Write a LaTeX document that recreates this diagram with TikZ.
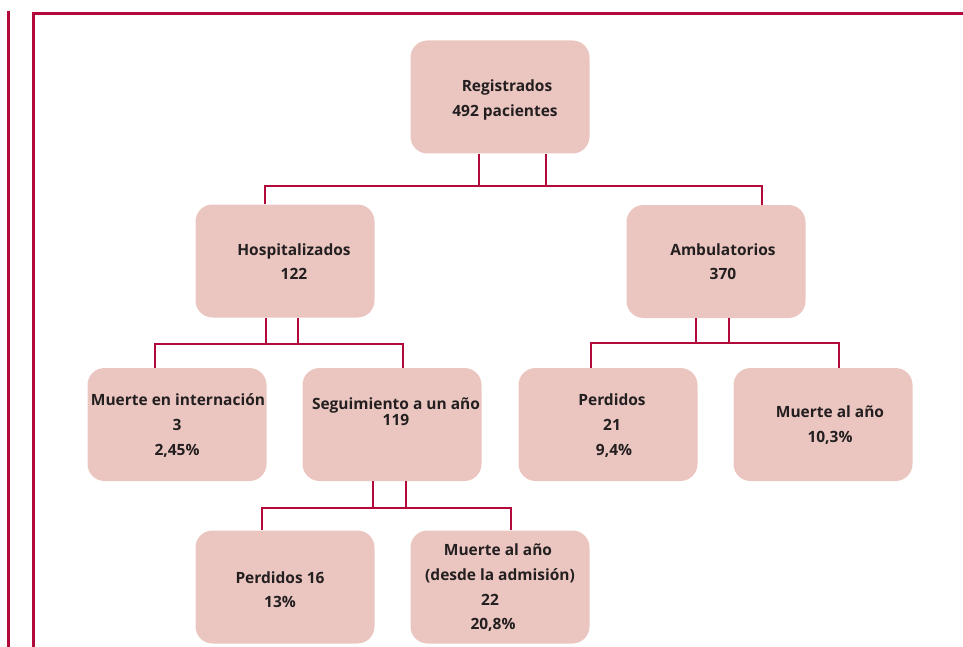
\documentclass[tikz,border=0pt]{standalone}
\usepackage{fontspec}
\setmainfont{Open Sans}
\definecolor{lineC}{RGB}{178,8,58}
\definecolor{boxC}{RGB}{235,198,192}
\definecolor{txtC}{RGB}{35,31,32}
\begin{document}
\begin{tikzpicture}[x=1pt,y=-1pt,
  box/.style={draw=none,fill=boxC,rounded corners=17pt,minimum width=179pt,minimum height=113pt,inner sep=0pt},
  txt/.style={anchor=base,inner sep=0pt,text=txtC,font=\fontsize{15.5}{25}\selectfont\bfseries},
  conn/.style={draw=lineC,line width=2.6pt},
  frame/.style={draw=lineC,line width=2.8pt}]
\useasboundingbox (0,0) rectangle (963,647);
% frame
\coordinate (fA) at (8.3,11);
\coordinate (fB) at (8.3,647);
\coordinate (fC) at (33.5,647);
\coordinate (fD) at (33.5,13.5);
\coordinate (fE) at (963,13.5);
\draw[frame,line width=2.4pt] (fA) -- (fB);
\draw[frame,line cap=rect] (fC) -- (fD) -- (fE);
% boxes
\node[box] (reg)  at (500,97) {};
\node[box] (hosp) at (285,261) {};
\node[box] (amb)  at (716,261.5) {};
\node[box] (mei)  at (177,424.5) {};
\node[box] (seg)  at (392,424.5) {};
\node[box] (p21)  at (608,424.5) {};
\node[box] (mal)  at (823,424.5) {};
\node[box] (p16)  at (285,587) {};
\node[box] (mda)  at (500,587) {};
% texts
\node[txt] (t1a) at (507,92) {Registrados};
\node[txt] (t1b) at (505,117) {492 pacientes};
\node[txt] (t2a) at (294,255) {Hospitalizados};
\node[txt] (t2b) at (294,279) {122};
\node[txt] (t3a) at (723,255) {Ambulatorios};
\node[txt] (t3b) at (723,279) {370};
\node[txt] (t4a) at (178,405) {Muerte en internación};
\node[txt] (t4b) at (177,430) {3};
\node[txt] (t4c) at (177,455) {2,45\%};
\node[txt] (t5a) at (396,409) {Seguimiento a un año};
\node[txt] (t5b) at (396,425) {119};
\node[txt] (t6a) at (612,405) {Perdidos};
\node[txt] (t6b) at (612,430) {21};
\node[txt] (t6c) at (614,455) {9,4\%};
\node[txt] (t7a) at (830,417) {Muerte al año};
\node[txt] (t7b) at (830,442) {10,3\%};
\node[txt] (t8a) at (280,583) {Perdidos 16};
\node[txt] (t8b) at (280,607) {13\%};
\node[txt] (t9a) at (498,555) {Muerte al año};
\node[txt] (t9b) at (500,580) {(desde la admisión)};
\node[txt] (t9c) at (490,605) {22};
\node[txt] (t9d) at (493,629) {20,8\%};
% connectors level 1
\coordinate (bus1) at (500,186);
\draw[conn] ([xshift=-21pt]reg.south) -- ([xshift=-21pt]reg.south |- bus1);
\draw[conn] ([xshift=46pt]reg.south) -- ([xshift=46pt]reg.south |- bus1);
\draw[conn] ([xshift=-20pt]hosp.north) |- (bus1) -| ([xshift=46pt]amb.north);
% level 2 hosp
\coordinate (bus2) at (285,344);
\draw[conn] ([xshift=-19pt]hosp.south) -- ([xshift=-19pt]hosp.south |- bus2);
\draw[conn] ([xshift=13pt]hosp.south) -- ([xshift=13pt]hosp.south |- bus2);
\draw[conn] ([xshift=-22pt]mei.north) |- (bus2) -| ([xshift=11pt]seg.north);
% level 2 amb
\coordinate (bus3) at (716,343);
\draw[conn] ([xshift=-20pt]amb.south) -- ([xshift=-20pt]amb.south |- bus3);
\draw[conn] ([xshift=13pt]amb.south) -- ([xshift=13pt]amb.south |- bus3);
\draw[conn] ([xshift=-17pt]p21.north) |- (bus3) -| ([xshift=16pt]mal.north);
% level 3 seg
\coordinate (bus4) at (392,508);
\draw[conn] ([xshift=-19pt]seg.south) -- ([xshift=-19pt]seg.south |- bus4);
\draw[conn] ([xshift=14pt]seg.south) -- ([xshift=14pt]seg.south |- bus4);
\draw[conn] ([xshift=-23pt]p16.north) |- (bus4) -| ([xshift=11pt]mda.north);
\end{tikzpicture}
\end{document}
